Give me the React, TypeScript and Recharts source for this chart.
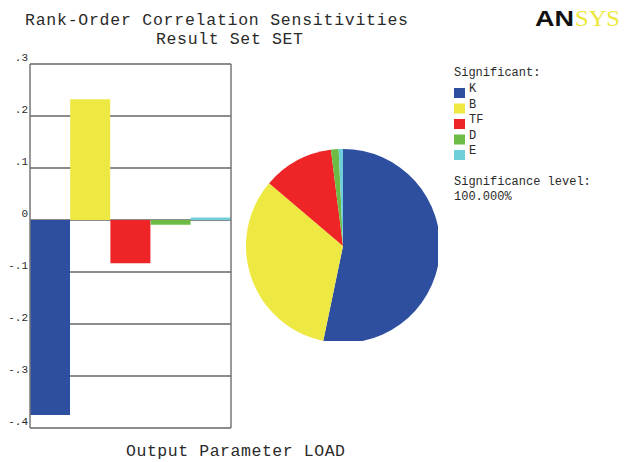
import { Bar, BarChart, CartesianGrid, Cell, Pie, PieChart, XAxis, YAxis } from "recharts"

const params = ["K", "B", "TF", "D", "E"]
const correlations = [-0.375, 0.232, -0.083, -0.009, 0.005]
const colors = ["#2e4fa0", "#eee843", "#ee2426", "#6cbb45", "#6ecfd9"]
const yTicks = [-0.4, -0.3, -0.2, -0.1, 0, 0.1, 0.2, 0.3]

const barData = params.map((name, i) => ({ name, value: correlations[i] }))
// pie slices are the relative share of each |correlation|
const pieData = params.map((name, i) => ({ name, value: Math.abs(correlations[i]) }))

const MONO = "Liberation Mono, DejaVu Sans Mono, monospace"
const TEXT = "#2a2a2a"
const mono = (size: number) => ({ fontFamily: MONO, fontSize: size })

const fmtTick = (v: number) => {
  if (v === 0) return "0"
  const s = Math.abs(v).toFixed(1).replace(/^0/, "")
  return v < 0 ? `-${s}` : s
}

const TickLabel = ({ x, y, payload }: any) => (
  <text x={x} y={y - 3} textAnchor="end" style={mono(11)} fill={TEXT}>
    {fmtTick(payload.value)}
  </text>
)

export default function App() {
  return (
    <div style={{ position: "absolute", left: 0, top: 0, width: 636, height: 462, background: "#fff" }}>
      <svg width={636} height={462} style={{ position: "absolute", left: 0, top: 0 }}>
        <text x={25} y={25} style={mono(16.5)} fill={TEXT} textLength={383} lengthAdjust="spacing">
          Rank-Order Correlation Sensitivities
        </text>
        <text x={156} y={44} style={mono(16.5)} fill={TEXT} textLength={147} lengthAdjust="spacing">
          Result Set SET
        </text>
        <text x={126} y={456} style={mono(16.5)} fill={TEXT} textLength={219} lengthAdjust="spacing">
          Output Parameter LOAD
        </text>
        <text
          x={535}
          y={26}
          style={{ fontFamily: "Liberation Sans, Arial, sans-serif", fontSize: 22, fontWeight: 900 }}
          fill="#111"
          textLength={39}
          lengthAdjust="spacingAndGlyphs"
        >
          AN
        </text>
        <text
          x={575}
          y={26}
          style={{ fontFamily: "Liberation Serif, Times New Roman, serif", fontSize: 24 }}
          fill="#ece83a"
          textLength={45}
          lengthAdjust="spacingAndGlyphs"
        >
          SYS
        </text>
        <text x={454} y={76} style={mono(12)} fill={TEXT}>
          Significant:
        </text>
        {params.map((name, i) => (
          <g key={name}>
            <rect x={454} y={88 + i * 15.5} width={11} height={10} fill={colors[i]} />
            <text x={469} y={92 + i * 15.5} style={mono(12)} fill={TEXT}>
              {name}
            </text>
          </g>
        ))}
        <text x={454} y={185} style={mono(12)} fill={TEXT}>
          Significance level:
        </text>
        <text x={454} y={200} style={mono(12)} fill={TEXT}>
          100.000%
        </text>
      </svg>

      <div style={{ position: "absolute", left: 0, top: 0 }}>
        <BarChart
          width={236}
          height={440}
          data={barData}
          margin={{ top: 64, right: 4, bottom: 12, left: 0 }}
          barCategoryGap={0}
        >
          <CartesianGrid yAxisId="left" vertical={false} stroke="#000" strokeOpacity={0.9} />
          <XAxis dataKey="name" hide />
          <YAxis
            yAxisId="left"
            width={30}
            domain={[-0.4, 0.3]}
            ticks={yTicks}
            interval={0}
            tickLine={false}
            tickSize={2}
            tickMargin={0}
            axisLine={{ stroke: "#777", strokeWidth: 1.5 }}
            tick={<TickLabel />}
          />
          <YAxis
            yAxisId="right"
            orientation="right"
            width={1}
            domain={[-0.4, 0.3]}
            tick={false}
            tickLine={false}
            axisLine={{ stroke: "#777", strokeWidth: 1.5 }}
          />
          <Bar yAxisId="left" dataKey="value" isAnimationActive={false}>
            {barData.map((d, i) => (
              <Cell key={d.name} fill={colors[i]} />
            ))}
          </Bar>
        </BarChart>
      </div>

      <div style={{ position: "absolute", left: 238, top: 141 }}>
        <PieChart width={200} height={200}>
          <Pie
            data={pieData}
            dataKey="value"
            nameKey="name"
            cx={100}
            cy={100}
            outerRadius={97}
            startAngle={90}
            endAngle={-270}
            stroke="none"
            isAnimationActive={false}
          >
            {pieData.map((d, i) => (
              <Cell key={d.name} fill={colors[i]} />
            ))}
          </Pie>
        </PieChart>
      </div>
    </div>
  )
}
